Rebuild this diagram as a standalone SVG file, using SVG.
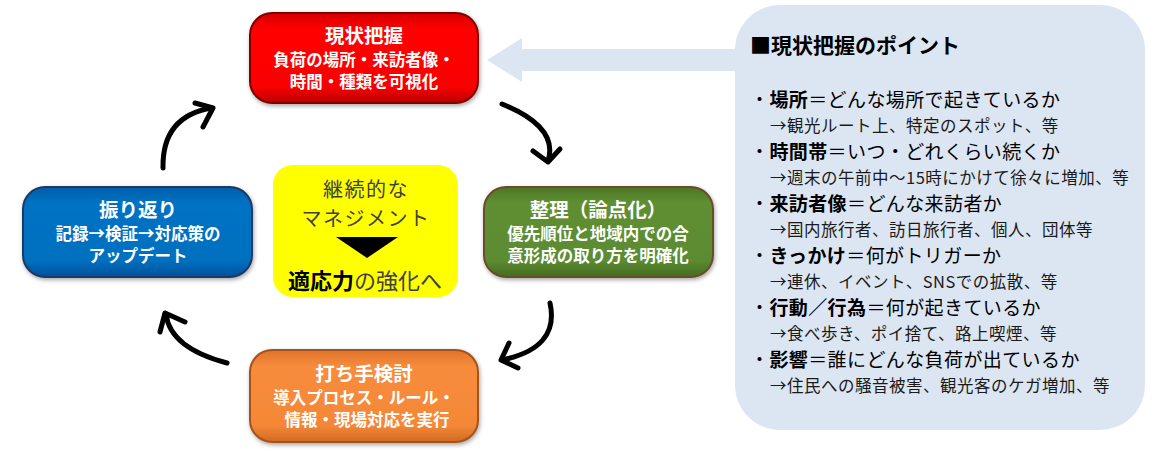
<svg xmlns="http://www.w3.org/2000/svg" width="1159" height="453" viewBox="0 0 1159 453">
<style>
  text { font-family: 'Noto Sans CJK JP', 'Noto Sans', sans-serif; }
  .bt { fill: #ffffff; font-weight: bold; text-anchor: middle; }
  .bt1 { font-size: 19.5px; }
  .bt2 { font-size: 16.5px; }
  .arr { fill: none; stroke: #000; stroke-width: 5; stroke-linecap: round; stroke-linejoin: round; }
  .pt { fill: #000; }
  .pb { font-size: 19px; letter-spacing: 0.4px; }
  .ps { font-size: 16.5px; fill: #1a1a1a; letter-spacing: 0.5px; }
  .b { font-weight: bold; }
  .yt { font-size: 20px; letter-spacing: 1.5px; text-anchor: middle; }
  .yb { font-size: 22px; text-anchor: middle; }
</style>
<defs>
  <filter id="sh" x="-10%" y="-10%" width="120%" height="130%">
    <feDropShadow dx="1" dy="2" stdDeviation="2" flood-color="#000" flood-opacity="0.35"/>
  </filter>
  <linearGradient id="gRed" x1="0" y1="0" x2="0" y2="1">
    <stop offset="0" stop-color="#d40000"/>
    <stop offset="0.18" stop-color="#ff0000"/>
    <stop offset="0.82" stop-color="#fa0000"/>
    <stop offset="1" stop-color="#b80000"/>
  </linearGradient>
  <linearGradient id="gGreen" x1="0" y1="0" x2="0" y2="1">
    <stop offset="0" stop-color="#4b7625"/>
    <stop offset="0.18" stop-color="#5f8f32"/>
    <stop offset="0.82" stop-color="#5c8b30"/>
    <stop offset="1" stop-color="#446b21"/>
  </linearGradient>
  <linearGradient id="gOrange" x1="0" y1="0" x2="0" y2="1">
    <stop offset="0" stop-color="#e0732a"/>
    <stop offset="0.18" stop-color="#f78c3c"/>
    <stop offset="0.82" stop-color="#f58838"/>
    <stop offset="1" stop-color="#d06a22"/>
  </linearGradient>
  <linearGradient id="gBlue" x1="0" y1="0" x2="0" y2="1">
    <stop offset="0" stop-color="#005ea8"/>
    <stop offset="0.18" stop-color="#0072c4"/>
    <stop offset="0.82" stop-color="#006fbf"/>
    <stop offset="1" stop-color="#00519a"/>
  </linearGradient>
</defs>

<g id="panel">
  <rect x="735" y="5" width="410" height="425" rx="45" fill="#dce6f2"/>
  <polygon points="487,60 522,38 522,49 745,49 745,71 522,71 522,82" fill="#dce6f2"/>
  <text class="pt b" x="750" y="53" font-size="21">■現状把握のポイント</text>
  <text class="pt pb" x="750" y="107">・<tspan class="b">場所</tspan>＝どんな場所で起きているか</text>
  <text class="ps" x="770" y="132">→観光ルート上、特定のスポット、等</text>
  <text class="pt pb" x="750" y="159">・<tspan class="b">時間帯</tspan>＝いつ・どれくらい続くか</text>
  <text class="ps" x="770" y="184">→週末の午前中～15時にかけて徐々に増加、等</text>
  <text class="pt pb" x="750" y="211">・<tspan class="b">来訪者像</tspan>＝どんな来訪者か</text>
  <text class="ps" x="770" y="236">→国内旅行者、訪日旅行者、個人、団体等</text>
  <text class="pt pb" x="750" y="263">・<tspan class="b">きっかけ</tspan>＝何がトリガーか</text>
  <text class="ps" x="770" y="288">→連休、イベント、SNSでの拡散、等</text>
  <text class="pt pb" x="750" y="315">・<tspan class="b">行動／行為</tspan>＝何が起きているか</text>
  <text class="ps" x="770" y="340">→食べ歩き、ポイ捨て、路上喫煙、等</text>
  <text class="pt pb" x="750" y="367">・<tspan class="b">影響</tspan>＝誰にどんな負荷が出ているか</text>
  <text class="ps" x="770" y="392">→住民への騒音被害、観光客のケガ増加、等</text>
</g>

<g id="node-genjo">
  <rect x="250" y="13" width="228" height="90" rx="22" fill="url(#gRed)" stroke="#800000" stroke-width="2" filter="url(#sh)"/>
  <text class="bt bt1" x="364" y="43">現状把握</text>
  <text class="bt bt2" x="364" y="66">負荷の場所・来訪者像・</text>
  <text class="bt bt2" x="364" y="88">時間・種類を可視化</text>
</g>

<g id="node-seiri">
  <rect x="484" y="187" width="229" height="90" rx="22" fill="url(#gGreen)" stroke="#6b4b2b" stroke-width="2" filter="url(#sh)"/>
  <text class="bt bt1" x="598" y="217">整理（論点化）</text>
  <text class="bt bt2" x="598" y="240">優先順位と地域内での合</text>
  <text class="bt bt2" x="598" y="262">意形成の取り方を明確化</text>
</g>

<g id="node-uchite">
  <rect x="250" y="350" width="228" height="92" rx="22" fill="url(#gOrange)" stroke="#a4521a" stroke-width="2" filter="url(#sh)"/>
  <text class="bt bt1" x="364" y="381">打ち手検討</text>
  <text class="bt bt2" x="364" y="404">導入プロセス・ルール・</text>
  <text class="bt bt2" x="367" y="426">情報・現場対応を実行</text>
</g>

<g id="node-furikaeri">
  <rect x="23" y="187" width="229" height="90" rx="22" fill="url(#gBlue)" stroke="#1f3864" stroke-width="2" filter="url(#sh)"/>
  <text class="bt bt1" x="138" y="217">振り返り</text>
  <text class="bt bt2" x="138" y="240">記録→検証→対応策の</text>
  <text class="bt bt2" x="138" y="262">アップデート</text>
</g>

<g id="node-center">
  <rect x="273" y="165" width="185" height="132" rx="20" fill="#ffff00"/>
  <text class="yt" x="366" y="197" fill="#404040">継続的な</text>
  <text class="yt" x="366" y="226" fill="#404040">マネジメント</text>
  <polygon points="336,237 398,237 367,258" fill="#000"/>
  <text class="yb" x="365" y="289"><tspan font-weight="bold" fill="#000">適応力</tspan><tspan fill="#404040">の強化へ</tspan></text>
</g>

<g id="connectors">
  <path class="arr" d="M502,104 Q559,127 548,161"/>
  <polyline class="arr" points="533,151 548,162 560,149"/>
  <path class="arr" d="M550,303 Q560,348 502,360"/>
  <polyline class="arr" points="509,343 501,360 518,368"/>
  <path class="arr" d="M227,363 Q170,348 166,314"/>
  <polyline class="arr" points="160,332 165,313 185,322"/>
  <path class="arr" d="M163,168 Q162,116 212,108"/>
  <polyline class="arr" points="195,103 213,108 203,127"/>
</g>
</svg>
